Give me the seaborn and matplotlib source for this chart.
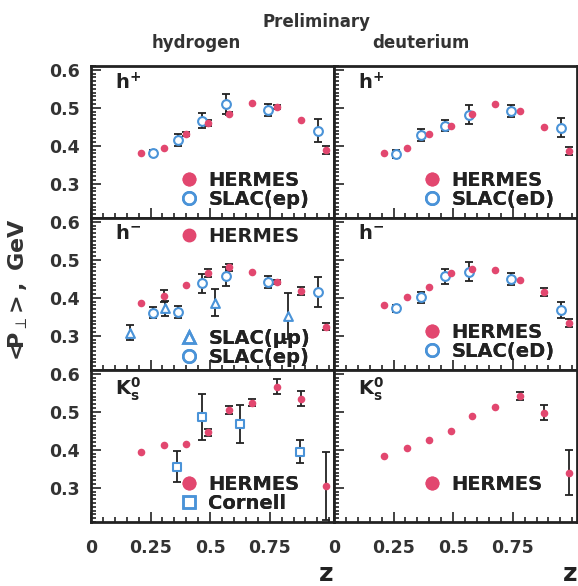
import matplotlib
matplotlib.use("Agg")
import matplotlib.pyplot as plt
import seaborn as sns
import pandas as pd
from matplotlib.lines import Line2D
from matplotlib.ticker import MultipleLocator, FixedLocator

# ---------------- data ----------------
z_hermes = [0.21, 0.305, 0.398, 0.49, 0.58, 0.675, 0.78, 0.88, 0.985]
z_slac = [0.26, 0.367, 0.467, 0.568, 0.745, 0.952]
z_slac_mup = [0.162, 0.312, 0.52, 0.828]
z_cornell = [0.361, 0.467, 0.624, 0.879]

# h+ hydrogen
hp_H = [0.382, 0.393, 0.431, 0.460, 0.485, 0.512, 0.503, 0.468, 0.389]
hp_H_err = [0, 0, 0.005, 0.008, 0.005, 0, 0.005, 0, 0.01]
hp_H_slac = [0.380, 0.415, 0.466, 0.510, 0.494, 0.440]
hp_H_slac_err = [0.008, 0.015, 0.02, 0.027, 0.015, 0.03]
# h+ deuterium
hp_D = [0.382, 0.394, 0.431, 0.453, 0.485, 0.510, 0.492, 0.450, 0.387]
hp_D_err = [0, 0, 0, 0, 0, 0, 0, 0, 0.01]
hp_D_slac = [0.378, 0.428, 0.453, 0.482, 0.492, 0.447]
hp_D_slac_err = [0.01, 0.015, 0.015, 0.025, 0.015, 0.025]
# h- hydrogen
hm_H = [0.386, 0.405, 0.434, 0.466, 0.480, 0.468, 0.442, 0.418, 0.324]
hm_H_err = [0, 0.015, 0, 0.01, 0.01, 0, 0.005, 0.01, 0.01]
hm_H_slac = [0.361, 0.363, 0.438, 0.457, 0.442, 0.416]
hm_H_slac_err = [0.015, 0.015, 0.025, 0.025, 0.015, 0.04]
hm_H_mup = [0.308, 0.372, 0.387, 0.352]
hm_H_mup_err = [0.02, 0.02, 0.035, 0.06]
# h- deuterium
hm_D = [0.381, 0.403, 0.429, 0.464, 0.475, 0.473, 0.447, 0.416, 0.333]
hm_D_err = [0, 0, 0, 0, 0, 0, 0, 0.01, 0.01]
hm_D_slac = [0.372, 0.401, 0.457, 0.469, 0.449, 0.368]
hm_D_slac_err = [0.01, 0.015, 0.02, 0.025, 0.015, 0.02]
# K0s hydrogen
k_H = [0.395, 0.413, 0.415, 0.446, 0.505, 0.524, 0.566, 0.534, 0.305]
k_H_err = [0, 0, 0, 0.01, 0.01, 0.01, 0.02, 0.02, 0.09]
k_H_cornell = [0.356, 0.487, 0.467, 0.395]
k_H_cornell_err = [0.04, 0.06, 0.05, 0.03]
# K0s deuterium
k_D = [0.384, 0.406, 0.426, 0.450, 0.489, 0.512, 0.542, 0.498, 0.340]
k_D_err = [0, 0, 0, 0, 0, 0, 0.01, 0.02, 0.06]

col_titles = ["hydrogen", "deuterium"]
row_labels = [r"$\mathbf{h^{+}}$", r"$\mathbf{h^{-}}$", r"$\mathbf{K^{0}_{s}}$"]
x_ticks = [0, 0.25, 0.5, 0.75]
x_ticklabels = ["0", "0.25", "0.5", "0.75"]
y_ticks = [0.3, 0.4, 0.5, 0.6]

# ---------------- style ----------------
sns.set_theme(style="ticks")
plt.rcParams["font.family"] = ["DejaVu Sans"]
plt.rcParams["mathtext.fontset"] = "dejavusans"

PINK = "#e2476f"
BLUE = "#4a93d8"
DARK = "#222222"

W, H = 578, 586
fig = plt.figure(figsize=(W / 100, H / 100), dpi=100)
fig.patch.set_facecolor("white")

left_px, top_px = 91, 66
pw, ph = 243, 152
axes = [[None, None] for _ in range(3)]
for r in range(3):
    for c in range(2):
        x0 = (left_px + c * pw) / W
        y0 = 1 - (top_px + (r + 1) * ph) / H
        axes[r][c] = fig.add_axes([x0, y0, pw / W, ph / H])


def draw(ax, z, v, err, kind):
    df = pd.DataFrame({"z": z, "v": v, "e": err})
    if kind == "hermes":
        e = df[df.e > 0]
        ax.errorbar(e.z, e.v, yerr=e.e, fmt="none", ecolor=DARK, elinewidth=1.3,
                    capsize=3, capthick=1.3, zorder=2)
        sns.scatterplot(data=df, x="z", y="v", ax=ax, color=PINK, s=30,
                        edgecolor=PINK, linewidth=0, zorder=4, legend=False)
    else:
        marker = {"slac": "o", "mup": "^", "cornell": "s"}[kind]
        ax.errorbar(df.z, df.v, yerr=df.e, fmt="none", ecolor=DARK, elinewidth=1.3,
                    capsize=3, capthick=1.3, zorder=2)
        sns.scatterplot(data=df, x="z", y="v", ax=ax, marker=marker, s=40,
                        facecolor="white", edgecolor=BLUE, linewidth=1.5,
                        zorder=3, legend=False)


h_herm = Line2D([], [], marker="o", ls="none", color=PINK, markersize=9)
h_slac = Line2D([], [], marker="o", ls="none", mfc="none", mec=BLUE, mew=1.8, markersize=9)
h_mup = Line2D([], [], marker="^", ls="none", mfc="none", mec=BLUE, mew=1.8, markersize=9)
h_corn = Line2D([], [], marker="s", ls="none", mfc="none", mec=BLUE, mew=1.8, markersize=8)


def add_legend(ax, handles, labels, anchor):
    leg = ax.legend(handles, labels, loc="upper left", bbox_to_anchor=anchor,
                    frameon=False, handlelength=0.8, handletextpad=0.6,
                    labelspacing=0.0, borderaxespad=0, borderpad=0,
                    prop={"weight": "bold", "size": 14})
    for t in leg.get_texts():
        t.set_color("#222222")
    ax.add_artist(leg)


# row 0: h+
draw(axes[0][0], z_hermes, hp_H, hp_H_err, "hermes")
draw(axes[0][0], z_slac, hp_H_slac, hp_H_slac_err, "slac")
add_legend(axes[0][0], [h_herm, h_slac], ["HERMES", "SLAC(ep)"], (0.37, 0.31))
draw(axes[0][1], z_hermes, hp_D, hp_D_err, "hermes")
draw(axes[0][1], z_slac, hp_D_slac, hp_D_slac_err, "slac")
add_legend(axes[0][1], [h_herm, h_slac], ["HERMES", "SLAC(eD)"], (0.37, 0.31))
# row 1: h-
draw(axes[1][0], z_hermes, hm_H, hm_H_err, "hermes")
draw(axes[1][0], z_slac, hm_H_slac, hm_H_slac_err, "slac")
draw(axes[1][0], z_slac_mup, hm_H_mup, hm_H_mup_err, "mup")
add_legend(axes[1][0], [h_herm], ["HERMES"], (0.37, 0.94))
add_legend(axes[1][0], [h_mup, h_slac], ["SLAC(\u03bcp)", "SLAC(ep)"], (0.37, 0.27))
draw(axes[1][1], z_hermes, hm_D, hm_D_err, "hermes")
draw(axes[1][1], z_slac, hm_D_slac, hm_D_slac_err, "slac")
add_legend(axes[1][1], [h_herm, h_slac], ["HERMES", "SLAC(eD)"], (0.37, 0.31))
# row 2: K0s
draw(axes[2][0], z_hermes, k_H, k_H_err, "hermes")
draw(axes[2][0], z_cornell, k_H_cornell, k_H_cornell_err, "cornell")
add_legend(axes[2][0], [h_herm, h_corn], ["HERMES", "Cornell"], (0.37, 0.31))
draw(axes[2][1], z_hermes, k_D, k_D_err, "hermes")
add_legend(axes[2][1], [h_herm], ["HERMES"], (0.37, 0.31))

for r in range(3):
    for c in range(2):
        ax = axes[r][c]
        ax.set_xlim(0, 1.02)
        ax.set_ylim(0.21, 0.61)
        ax.set_xlabel("")
        ax.set_ylabel("")
        ax.xaxis.set_major_locator(FixedLocator(x_ticks))
        ax.xaxis.set_minor_locator(MultipleLocator(0.05))
        ax.yaxis.set_major_locator(FixedLocator(y_ticks))
        ax.yaxis.set_minor_locator(MultipleLocator(0.01))
        ax.tick_params(which="both", direction="in", top=False, right=False,
                       colors="#222222", width=1.2)
        ax.tick_params(which="major", length=7)
        ax.tick_params(which="minor", length=3.5)
        ax.tick_params(axis="x", pad=12, labelsize=12.5)
        ax.tick_params(axis="y", pad=8, labelsize=12.5)
        for s in ax.spines.values():
            s.set_linewidth(2)
            s.set_color("#222222")
        if r == 2:
            ax.set_xticklabels(x_ticklabels, fontweight="bold", color="#333333")
            ax.set_xlabel("z", loc="right", fontsize=18, fontweight="bold",
                          labelpad=4, color="#222222")
        else:
            ax.set_xticklabels([])
        if c == 0:
            ax.set_yticklabels([f"{t:.1f}" for t in y_ticks], fontweight="bold",
                               color="#333333")
        else:
            ax.set_yticklabels([])
        ax.text(0.10, 0.96, row_labels[r], transform=ax.transAxes, ha="left",
                va="top", fontsize=14, color="#222222")

fig.text(316 / W, 1 - 22 / H, "Preliminary", ha="center", va="center",
         fontsize=12, fontweight="bold", color="#333333")
fig.text(196 / W, 1 - 43 / H, col_titles[0], ha="center", va="center",
         fontsize=12, fontweight="bold", color="#333333")
fig.text(421 / W, 1 - 43 / H, col_titles[1], ha="center", va="center",
         fontsize=12, fontweight="bold", color="#333333")
fig.text(18 / W, 1 - 292 / H, r"$\mathbf{<\!\!\!P}_{\perp}\!\mathbf{>,\ GeV}$",
         rotation=90, ha="center", va="center", fontsize=16, color="#333333")

fig.savefig("out.png", dpi=100, facecolor="white")
